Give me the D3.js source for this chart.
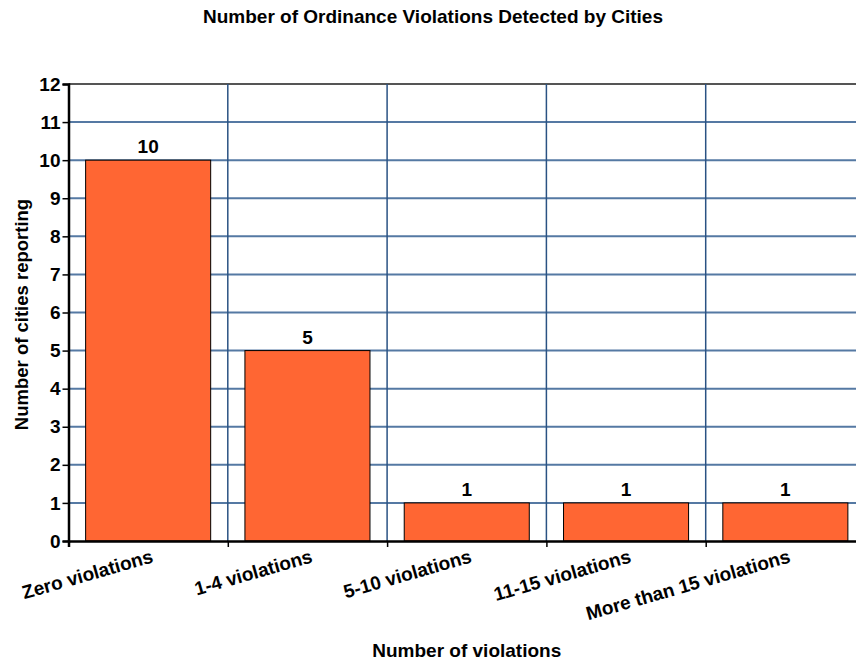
<!DOCTYPE html>
<html>
<head>
<meta charset="utf-8">
<script src="https://cdn.jsdelivr.net/npm/d3@7"></script>
<style>
  body { margin: 0; background: #fff; }
  text { font-family: "Liberation Sans", Arial, sans-serif; font-weight: bold; fill: #000; }
</style>
</head>
<body>
<div id="chart"></div>
<script>
var categories = ["Zero violations", "1-4 violations", "5-10 violations", "11-15 violations", "More than 15 violations"];
var cityCounts = [10, 5, 1, 1, 1];
var yTicks = [0, 1, 2, 3, 4, 5, 6, 7, 8, 9, 10, 11, 12];

var svgWidth = 856;
var svgHeight = 663;

var margin = { top: 84, left: 68.5 };
var width = 796.5;
var height = 457;

var svg = d3.select("#chart")
  .append("svg")
  .attr("width", svgWidth)
  .attr("height", svgHeight);

var chartGroup = svg.append("g")
  .attr("transform", `translate(${margin.left}, ${margin.top})`);

// scales
var xBand = d3.scaleBand()
  .domain(categories)
  .range([0, width])
  .paddingInner(0.215)
  .paddingOuter(0.1075);

var xEdges = d3.scaleLinear()
  .domain([0, categories.length])
  .range([0, width]);

var yLinearScale = d3.scaleLinear()
  .domain([0, 12])
  .range([height, 0]);

// horizontal grid
chartGroup.append("g")
  .selectAll("line")
  .data(yTicks.filter(d => d > 0))
  .enter()
  .append("line")
  .attr("x1", 0)
  .attr("x2", width)
  .attr("y1", d => yLinearScale(d))
  .attr("y2", d => yLinearScale(d))
  .attr("stroke", d => d === 12 ? "#555" : "#5579a3")
  .attr("stroke-width", 2);

// vertical grid at category boundaries
chartGroup.append("g")
  .selectAll("line")
  .data(d3.range(1, categories.length + 1))
  .enter()
  .append("line")
  .attr("x1", d => xEdges(d))
  .attr("x2", d => xEdges(d))
  .attr("y1", 0)
  .attr("y2", height)
  .attr("stroke", "#2a5283")
  .attr("stroke-width", 1.5);

// bars
chartGroup.selectAll("rect.bar")
  .data(cityCounts)
  .enter()
  .append("rect")
  .attr("class", "bar")
  .attr("x", (d, i) => xBand(categories[i]))
  .attr("y", d => yLinearScale(d))
  .attr("width", xBand.bandwidth())
  .attr("height", d => height - yLinearScale(d))
  .attr("fill", "#ff6633")
  .attr("stroke", "#000")
  .attr("stroke-width", 1);

// value labels
chartGroup.selectAll("text.value")
  .data(cityCounts)
  .enter()
  .append("text")
  .attr("class", "value")
  .attr("x", (d, i) => xBand(categories[i]) + xBand.bandwidth() / 2)
  .attr("y", d => yLinearScale(d) - 7)
  .attr("text-anchor", "middle")
  .style("font-size", "19px")
  .text(d => d);

// y axis
var leftAxis = d3.axisLeft(yLinearScale).tickValues(yTicks).tickSize(6).tickPadding(2);
var yAxis = chartGroup.append("g").call(leftAxis);
yAxis.select(".domain").attr("stroke", "#000").attr("stroke-width", 2.5);
yAxis.selectAll(".tick line").attr("stroke", "#000").attr("stroke-width", 1.5);
yAxis.selectAll(".tick text").style("font-size", "19px").style("font-family", "Liberation Sans, Arial, sans-serif");

// x axis: boundary ticks
var edgeAxis = d3.axisBottom(xEdges).tickValues(d3.range(0, categories.length + 1)).tickSize(6).tickFormat("");
var xAxis = chartGroup.append("g")
  .attr("transform", `translate(0, ${height})`)
  .call(edgeAxis);
xAxis.select(".domain").attr("stroke", "#000").attr("stroke-width", 2.5);
xAxis.selectAll(".tick line").attr("stroke", "#000").attr("stroke-width", 1.5);

// x axis: rotated category labels
var bottomAxis = d3.axisBottom(xBand).tickSize(0).tickPadding(0);
var xLabels = chartGroup.append("g")
  .attr("transform", `translate(0, ${height})`)
  .call(bottomAxis);
xLabels.select(".domain").remove();
xLabels.selectAll(".tick text")
  .attr("text-anchor", "end")
  .attr("dy", 0)
  .attr("y", 0)
  .attr("transform", "translate(6, 21) rotate(-16)")
  .style("font-size", "19px")
  .style("font-family", "Liberation Sans, Arial, sans-serif");

// title
svg.append("text")
  .attr("x", 433)
  .attr("y", 23)
  .attr("text-anchor", "middle")
  .style("font-size", "19px")
  .text("Number of Ordinance Violations Detected by Cities");

// axis titles
svg.append("text")
  .attr("transform", `translate(${margin.left + width / 2}, 657)`)
  .attr("text-anchor", "middle")
  .style("font-size", "19px")
  .text("Number of violations");

svg.append("text")
  .attr("transform", `translate(28, ${margin.top + height / 2 + 2}) rotate(-90)`)
  .attr("text-anchor", "middle")
  .style("font-size", "18.5px")
  .text("Number of cities reporting");
</script>
</body>
</html>
